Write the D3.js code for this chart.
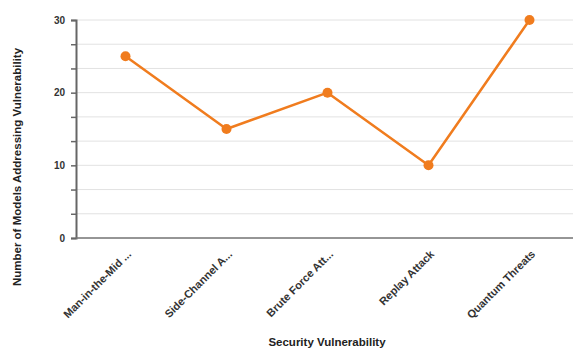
<!DOCTYPE html>
<html><head><meta charset="utf-8">
<script src="https://cdn.jsdelivr.net/npm/d3@7"></script>
<style>body{margin:0;background:#fff}svg text{font-family:"Liberation Sans",Arial,sans-serif;}</style>
</head><body><svg id="c" width="574" height="349"></svg>
<script>
const categories = ["Man-in-the-Mid ...","Side-Channel A...","Brute Force Att...","Replay Attack","Quantum Threats"];
const values = [25, 15, 20, 10, 30];
const yTicks = [0, 10/3, 20/3, 10, 40/3, 50/3, 20, 70/3, 80/3, 30];
const yLabels = [0, 10, 20, 30];

(function(){
const svg = d3.select("#c");
const mL = 76, mT = 20, mB = 238, mR = 573;
const x = d3.scalePoint().domain(categories).range([75, 580]).padding(0.5);
const y = d3.scaleLinear().domain([0, 30]).range([mB, mT]);

svg.append("g").selectAll("line").data(yTicks).join("line")
  .attr("x1", mL).attr("x2", mR)
  .attr("y1", d => y(d)).attr("y2", d => y(d))
  .attr("stroke", "#e2e2e2").attr("stroke-width", 1);

const ya = svg.append("g").attr("transform", `translate(${mL},0)`)
  .call(d3.axisLeft(y).tickValues(yTicks).tickSize(5)
    .tickFormat(d => yLabels.some(v => Math.abs(v - d) < 1e-6) ? d3.format("d")(d) : ""));
ya.select(".domain").attr("stroke", "#666").attr("stroke-width", 2);
ya.selectAll(".tick line").attr("stroke", "#666").attr("stroke-width", 1.5);
ya.selectAll("text").attr("font-size", 10).attr("font-weight", "bold").attr("fill", "#333").attr("dx", -3);

const xa = svg.append("g").attr("transform", `translate(0,${mB})`)
  .call(d3.axisBottom(x).tickSize(0));
xa.select(".domain").attr("d", `M${mL},0H${mR}`).attr("stroke", "#777").attr("stroke-width", 1.5);
xa.selectAll("text").attr("font-size", 11).attr("font-weight", "bold").attr("fill", "#333")
  .attr("text-anchor", "end").attr("transform", "translate(1,12) rotate(-45)").attr("dy", "0.35em");

svg.append("path").datum(values)
  .attr("d", d3.line().x((d, i) => x(categories[i])).y(d => y(d)))
  .attr("fill", "none").attr("stroke", "#f07c1e").attr("stroke-width", 2.5).attr("stroke-linejoin", "round");
svg.append("g").selectAll("circle").data(values).join("circle")
  .attr("cx", (d, i) => x(categories[i])).attr("cy", d => y(d)).attr("r", 5)
  .attr("fill", "#f07c1e");

svg.append("text").attr("x", 327).attr("y", 346).attr("text-anchor", "middle")
  .attr("font-size", 11.5).attr("font-weight", "bold").attr("fill", "#222").text("Security Vulnerability");
svg.append("text").attr("transform", "translate(21,167) rotate(-90)").attr("text-anchor", "middle")
  .attr("font-size", 11.5).attr("font-weight", "bold").attr("fill", "#222").text("Number of Models Addressing Vulnerability");
})();
</script></body></html>
